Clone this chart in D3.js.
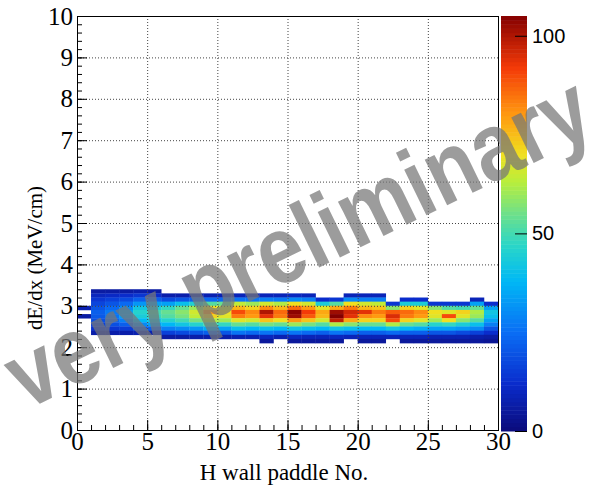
<!DOCTYPE html>
<html lang="en">
<head>
    <meta charset="UTF-8">
    <title>dEdx vs H wall paddle</title>
    <script src="https://d3js.org/d3.v7.min.js"></script>
    <style>
        body { margin: 0; background: #fff; }
    </style>
</head>
<body>
    <script>
        const w = 595;
        const h = 493;

        // bins: lower edges of the paddle (x) and dE/dx (y) bins
        const paddleBins = [0, 1, 2, 3, 4, 5, 6, 7, 8, 9, 10, 11, 12, 13, 14, 15, 16, 17, 18, 19, 20, 21, 22, 23, 24, 25, 26, 27, 28, 29];
        const dedxBins = [3.3, 3.2, 3.1, 3.0, 2.9, 2.8, 2.7, 2.6, 2.5, 2.4, 2.3, 2.2, 2.1];

        // counts per dE/dx row, one value per paddle
        const r33 = [0, 6, 6, 6, 7, 6, 0, 0, 0, 0, 0, 0, 0, 0, 0, 0, 0, 0, 0, 0, 0, 0, 0, 0, 0, 0, 0, 0, 0, 0];
        const r32 = [0, 10, 11, 12, 14, 12, 7, 7, 8, 8, 8, 9, 9, 9, 9, 10, 9, 0, 0, 9, 9, 9, 0, 0, 0, 0, 0, 0, 0, 0];
        const r31 = [0, 14, 16, 18, 22, 22, 18, 20, 22, 24, 24, 26, 26, 28, 27, 30, 28, 12, 14, 30, 28, 28, 0, 12, 12, 0, 0, 0, 9, 0];
        const r30 = [0, 17, 20, 24, 32, 34, 34, 40, 45, 52, 54, 64, 60, 66, 62, 70, 66, 44, 52, 70, 66, 64, 14, 44, 44, 14, 14, 14, 34, 12];
        const r29 = [8, 20, 24, 30, 42, 44, 48, 54, 60, 70, 66, 76, 72, 82, 76, 86, 80, 68, 78, 84, 76, 74, 58, 72, 68, 58, 52, 50, 54, 34];
        const r28 = [0, 22, 27, 34, 46, 50, 54, 58, 66, 80, 70, 90, 82, 100, 86, 104, 92, 78, 102, 96, 94, 84, 88, 86, 82, 70, 68, 72, 62, 42];
        const r27 = [6, 21, 26, 33, 44, 48, 52, 56, 64, 72, 68, 84, 80, 94, 84, 102, 88, 76, 105, 94, 82, 80, 95, 84, 80, 68, 90, 68, 60, 40];
        const r26 = [0, 19, 23, 28, 38, 42, 46, 50, 56, 62, 60, 68, 66, 74, 70, 80, 74, 66, 98, 78, 72, 72, 90, 72, 68, 60, 70, 58, 52, 34];
        const r25 = [0, 16, 19, 22, 30, 34, 38, 42, 46, 50, 48, 54, 52, 56, 54, 60, 56, 52, 62, 58, 54, 54, 62, 54, 52, 46, 48, 44, 40, 28];
        const r24 = [0, 13, 14, 15, 20, 22, 28, 30, 32, 36, 34, 40, 38, 40, 38, 42, 40, 38, 42, 40, 38, 38, 42, 38, 36, 34, 34, 32, 30, 20];
        const r23 = [0, 7, 7, 7, 8, 8, 16, 18, 20, 22, 20, 26, 24, 26, 24, 26, 24, 22, 26, 24, 22, 22, 24, 22, 22, 20, 20, 18, 16, 12];
        const r22 = [0, 0, 0, 0, 0, 0, 6, 6, 7, 7, 7, 8, 8, 10, 8, 10, 9, 9, 10, 9, 9, 9, 9, 9, 9, 8, 8, 8, 7, 6];
        const r21 = [0, 0, 0, 0, 0, 0, 0, 0, 0, 0, 0, 0, 0, 5, 0, 5, 5, 5, 5, 0, 5, 5, 0, 5, 5, 5, 5, 5, 5, 4];
        const rows = [r33, r32, r31, r30, r29, r28, r27, r26, r25, r24, r23, r22, r21];

        // tick labels
        const xTicks = [0, 5, 10, 15, 20, 25, 30];
        const yTicks = [0, 1, 2, 3, 4, 5, 6, 7, 8, 9, 10];
        const zTicks = [0, 50, 100];
        const zMax = 105;

        // rainbow palette
        const palStops = [0, 12, 25, 38, 47, 55, 63, 70, 80, 92, 105];
        const palColors = ["#0b0b7a", "#0a2ccc", "#0a6ef5", "#00b8f5", "#2ad6c8", "#6ee08a", "#b8ee3c", "#f0e020", "#ff9a10", "#f43a08", "#840000"];

        const serif = "'Liberation Serif', 'Times New Roman', serif";
        const sans = "'Liberation Sans', Arial, sans-serif";
        const frame = { left: 77, right: 498, top: 16, bottom: 430 };

        const svg = d3.select("body")
                      .append("svg")
                      .attr("width", w)
                      .attr("height", h)
                      .attr("viewBox", [0, 0, w, h]);

        const xScale = d3.scaleLinear().domain([0, 30]).range([frame.left, frame.right]);
        const yScale = d3.scaleLinear().domain([0, 10]).range([frame.bottom, frame.top]);
        const zScale = d3.scaleLinear().domain([0, zMax]).range([431, frame.top]);
        const color = d3.scaleLinear().domain(palStops).range(palColors).interpolate(d3.interpolateRgb);

        // flatten rows into cells
        const cells = [];
        rows.forEach((row, j) => {
            row.forEach((v, i) => {
                if (v > 0) cells.push({ x: paddleBins[i], y: dedxBins[j], v: v });
            });
        });

        svg.append("g")
           .selectAll("rect")
           .data(cells)
           .enter()
           .append("rect")
           .attr("x", d => xScale(d.x))
           .attr("y", d => yScale(d.y + 0.1))
           .attr("width", d => xScale(d.x + 1) - xScale(d.x) + 0.3)
           .attr("height", d => yScale(d.y) - yScale(d.y + 0.1) + 0.3)
           .attr("fill", d => color(d.v));

        // dotted grid
        const grid = svg.append("g")
                        .attr("stroke", "#444")
                        .attr("stroke-width", 1)
                        .attr("stroke-dasharray", "1,2");
        grid.selectAll(".gx")
            .data(xTicks.slice(1, -1))
            .enter()
            .append("line")
            .attr("x1", d => xScale(d) + 0.5).attr("x2", d => xScale(d) + 0.5)
            .attr("y1", frame.top).attr("y2", frame.bottom);
        grid.selectAll(".gy")
            .data(yTicks.slice(1, -1))
            .enter()
            .append("line")
            .attr("y1", d => yScale(d) + 0.5).attr("y2", d => yScale(d) + 0.5)
            .attr("x1", frame.left).attr("x2", frame.right);

        // axes, ticks pointing inwards
        svg.append("g")
           .attr("transform", `translate(0, ${frame.bottom})`)
           .call(d3.axisBottom(xScale).ticks(30).tickSize(-5).tickFormat(""))
           .call(g => g.select(".domain").remove());
        svg.append("g")
           .attr("transform", `translate(0, ${frame.bottom})`)
           .attr("font-family", serif)
           .call(d3.axisBottom(xScale).tickValues(xTicks).tickSize(-10).tickPadding(2).tickFormat(d3.format("d")))
           .call(g => g.select(".domain").remove())
           .selectAll("text")
           .style("font-family", serif)
           .style("font-size", "25px");

        svg.append("g")
           .attr("transform", `translate(${frame.left}, 0)`)
           .call(d3.axisLeft(yScale).ticks(50).tickSize(-5).tickFormat(""))
           .call(g => g.select(".domain").remove());
        svg.append("g")
           .attr("transform", `translate(${frame.left}, 0)`)
           .call(d3.axisLeft(yScale).tickValues(yTicks).tickSize(-10).tickPadding(4).tickFormat(d3.format("d")))
           .call(g => g.select(".domain").remove())
           .selectAll("text")
           .style("font-family", serif)
           .style("font-size", "25px");

        svg.append("rect")
           .attr("x", frame.left + 0.5)
           .attr("y", frame.top + 0.5)
           .attr("width", frame.right - frame.left)
           .attr("height", frame.bottom - frame.top)
           .attr("fill", "none")
           .attr("stroke", "#000");

        // axis titles
        svg.append("text")
           .attr("x", 284)
           .attr("y", 480)
           .attr("text-anchor", "middle")
           .style("font-family", serif)
           .style("font-size", "23px")
           .text("H wall paddle No.");
        svg.append("text")
           .attr("transform", "translate(42, 258) rotate(-90)")
           .attr("text-anchor", "middle")
           .style("font-family", serif)
           .style("font-size", "21px")
           .text("dE/dx (MeV/cm)");

        // palette bar
        const palette = svg.append("g");
        const steps = d3.range(0, zMax, zMax / 100);
        palette.selectAll("rect")
               .data(steps)
               .enter()
               .append("rect")
               .attr("x", 501)
               .attr("width", 26)
               .attr("y", d => zScale(d + zMax / 100))
               .attr("height", d => zScale(d) - zScale(d + zMax / 100) + 0.5)
               .attr("fill", d => color(d + zMax / 200));
        palette.append("g")
               .attr("transform", "translate(527, 0)")
               .call(d3.axisRight(zScale).tickValues(zTicks).tickSize(-12).tickPadding(5).tickFormat(d3.format("d")))
               .call(g => g.select(".domain").remove())
               .selectAll("text")
               .style("font-family", sans)
               .style("font-size", "20px");

        // watermark
        svg.append("text")
           .attr("transform", "translate(312, 271) rotate(-26) scale(0.86, 1)")
           .attr("text-anchor", "middle")
           .style("font-family", sans)
           .style("font-weight", "bold")
           .style("font-size", "96px")
           .attr("fill", "#777")
           .attr("opacity", 0.72)
           .text("very preliminary");
    </script>
</body>
</html>
